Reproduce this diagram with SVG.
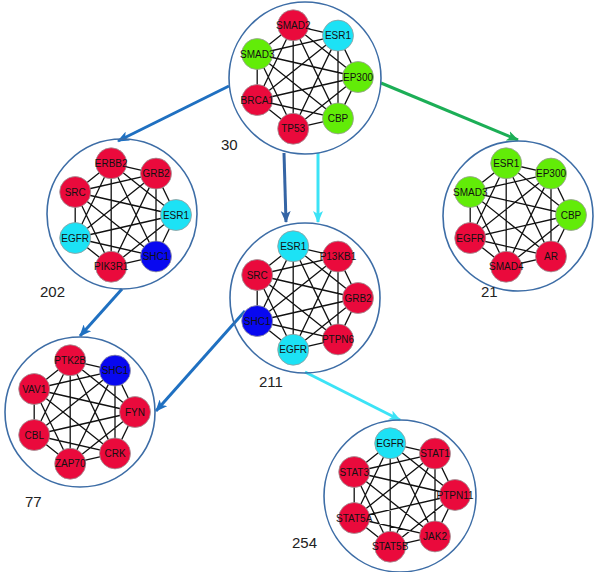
<svg xmlns="http://www.w3.org/2000/svg" xmlns:xlink="http://www.w3.org/1999/xlink" width="600" height="572" viewBox="0 0 600 572">
<style>
.bg{fill:#fff}
.ring{fill:none;stroke:#3D6DA6;stroke-width:1.6}
.edges{fill:none;stroke:#111;stroke-width:1.3}
.n{stroke:#9a9a9a;stroke-width:0.8}
.red{fill:#EA0A3C}
.grn{fill:#62EC08}
.cyn{fill:#1CE2F5}
.blu{fill:#0808F0}
.t{font-family:"Liberation Sans",Arial,sans-serif;font-size:10px;fill:#111;text-anchor:middle}
.lbl{font-family:"Liberation Sans",Arial,sans-serif;font-size:15px;fill:#222}
.arr{fill:none;stroke-width:3}
</style>
<defs>
<path id="k7" d="M53,0L33,41.4M53,0L-11.8,51.7M53,0L-47.8,23M53,0L-47.8,-23M53,0L-11.8,-51.7M53,0L33,-41.4M33,41.4L-11.8,51.7M33,41.4L-47.8,23M33,41.4L-47.8,-23M33,41.4L-11.8,-51.7M33,41.4L33,-41.4M-11.8,51.7L-47.8,23M-11.8,51.7L-47.8,-23M-11.8,51.7L-11.8,-51.7M-11.8,51.7L33,-41.4M-47.8,23L-47.8,-23M-47.8,23L-11.8,-51.7M-47.8,23L33,-41.4M-47.8,-23L-11.8,-51.7M-47.8,-23L33,-41.4M-11.8,-51.7L33,-41.4"/>
<marker id="mB" viewBox="0 0 12 10" refX="11" refY="5" markerWidth="12" markerHeight="10" markerUnits="userSpaceOnUse" orient="auto"><path d="M0,0L12,5L0,10L3,5z" fill="#1F70C1"/></marker>
<marker id="mD" viewBox="0 0 12 10" refX="11" refY="5" markerWidth="12" markerHeight="10" markerUnits="userSpaceOnUse" orient="auto"><path d="M0,0L12,5L0,10L3,5z" fill="#3565A5"/></marker>
<marker id="mC" viewBox="0 0 12 10" refX="11" refY="5" markerWidth="12" markerHeight="10" markerUnits="userSpaceOnUse" orient="auto"><path d="M0,0L12,5L0,10L3,5z" fill="#3CE3F6"/></marker>
<marker id="mG" viewBox="0 0 12 10" refX="11" refY="5" markerWidth="12" markerHeight="10" markerUnits="userSpaceOnUse" orient="auto"><path d="M0,0L12,5L0,10L3,5z" fill="#1CAE56"/></marker>
</defs>
<rect class="bg" width="600" height="572"/>

<g id="connectors">
<path class="arr" stroke="#1F70C1" marker-end="url(#mB)" d="M229,86L118,141"/>
<path class="arr" stroke="#3565A5" marker-end="url(#mD)" d="M284,153L286,222"/>
<path class="arr" stroke="#3CE3F6" marker-end="url(#mC)" d="M318,153L318,222"/>
<path class="arr" stroke="#1CAE56" marker-end="url(#mG)" d="M381,83L518,140"/>
<path class="arr" stroke="#1F70C1" marker-end="url(#mB)" d="M122,289L80,336"/>
<path class="arr" stroke="#1F70C1" marker-end="url(#mB)" d="M245,311L156,411"/>
<path class="arr" stroke="#3CE3F6" marker-end="url(#mC)" d="M305,372L400,420"/>
</g>

<g id="cluster30" transform="translate(305,77)">
<circle class="ring" cx="0" cy="1" r="76"/>
<use xlink:href="#k7" class="edges"/>
<circle class="n grn" cx="53" cy="0" r="15.5"/><text class="t" x="53" y="3.5">EP300</text>
<circle class="n grn" cx="33" cy="41.4" r="15.5"/><text class="t" x="33" y="44.9">CBP</text>
<circle class="n red" cx="-11.8" cy="51.7" r="15.5"/><text class="t" x="-11.8" y="55.2">TP53</text>
<circle class="n red" cx="-47.8" cy="23" r="15.5"/><text class="t" x="-47.8" y="26.5">BRCA1</text>
<circle class="n grn" cx="-47.8" cy="-23" r="15.5"/><text class="t" x="-47.8" y="-19.5">SMAD3</text>
<circle class="n red" cx="-11.8" cy="-51.7" r="15.5"/><text class="t" x="-11.8" y="-48.2">SMAD2</text>
<circle class="n cyn" cx="33" cy="-41.4" r="15.5"/><text class="t" x="33" y="-37.9">ESR1</text>
</g>

<g id="cluster202" transform="translate(123,215)">
<circle class="ring" cx="-1" cy="-1" r="75"/>
<use xlink:href="#k7" class="edges"/>
<circle class="n cyn" cx="53" cy="0" r="15.5"/><text class="t" x="53" y="3.5">ESR1</text>
<circle class="n blu" cx="33" cy="41.4" r="15.5"/><text class="t" x="33" y="44.9">SHC1</text>
<circle class="n red" cx="-11.8" cy="51.7" r="15.5"/><text class="t" x="-11.8" y="55.2">PIK3R1</text>
<circle class="n cyn" cx="-47.8" cy="23" r="15.5"/><text class="t" x="-47.8" y="26.5">EGFR</text>
<circle class="n red" cx="-47.8" cy="-23" r="15.5"/><text class="t" x="-47.8" y="-19.5">SRC</text>
<circle class="n red" cx="-11.8" cy="-51.7" r="15.5"/><text class="t" x="-11.8" y="-48.2">ERBB2</text>
<circle class="n red" cx="33" cy="-41.4" r="15.5"/><text class="t" x="33" y="-37.9">GRB2</text>
</g>

<g id="cluster21" transform="translate(518,215)">
<circle class="ring" cx="0" cy="1" r="75"/>
<use xlink:href="#k7" class="edges"/>
<circle class="n grn" cx="53" cy="0" r="15.5"/><text class="t" x="53" y="3.5">CBP</text>
<circle class="n red" cx="33" cy="41.4" r="15.5"/><text class="t" x="33" y="44.9">AR</text>
<circle class="n red" cx="-11.8" cy="51.7" r="15.5"/><text class="t" x="-11.8" y="55.2">SMAD4</text>
<circle class="n red" cx="-47.8" cy="23" r="15.5"/><text class="t" x="-47.8" y="26.5">EGFR</text>
<circle class="n grn" cx="-47.8" cy="-23" r="15.5"/><text class="t" x="-47.8" y="-19.5">SMAD3</text>
<circle class="n grn" cx="-11.8" cy="-51.7" r="15.5"/><text class="t" x="-11.8" y="-48.2">ESR1</text>
<circle class="n grn" cx="33" cy="-41.4" r="15.5"/><text class="t" x="33" y="-37.9">EP300</text>
</g>

<g id="cluster211" transform="translate(305,298)">
<circle class="ring" cx="0" cy="0" r="75"/>
<use xlink:href="#k7" class="edges"/>
<circle class="n red" cx="53" cy="0" r="15.5"/><text class="t" x="53" y="3.5">GRB2</text>
<circle class="n red" cx="33" cy="41.4" r="15.5"/><text class="t" x="33" y="44.9">PTPN6</text>
<circle class="n cyn" cx="-11.8" cy="51.7" r="15.5"/><text class="t" x="-11.8" y="55.2">EGFR</text>
<circle class="n blu" cx="-47.8" cy="23" r="15.5"/><text class="t" x="-47.8" y="26.5">SHC1</text>
<circle class="n red" cx="-47.8" cy="-23" r="15.5"/><text class="t" x="-47.8" y="-19.5">SRC</text>
<circle class="n cyn" cx="-11.8" cy="-51.7" r="15.5"/><text class="t" x="-11.8" y="-48.2">ESR1</text>
<circle class="n red" cx="33" cy="-41.4" r="15.5"/><text class="t" x="33" y="-37.9">P13KB1</text>
</g>

<g id="cluster77" transform="translate(82,412)">
<circle class="ring" cx="-2" cy="0" r="75"/>
<use xlink:href="#k7" class="edges"/>
<circle class="n red" cx="53" cy="0" r="15.5"/><text class="t" x="53" y="3.5">FYN</text>
<circle class="n red" cx="33" cy="41.4" r="15.5"/><text class="t" x="33" y="44.9">CRK</text>
<circle class="n red" cx="-11.8" cy="51.7" r="15.5"/><text class="t" x="-11.8" y="55.2">ZAP70</text>
<circle class="n red" cx="-47.8" cy="23" r="15.5"/><text class="t" x="-47.8" y="26.5">CBL</text>
<circle class="n red" cx="-47.8" cy="-23" r="15.5"/><text class="t" x="-47.8" y="-19.5">VAV1</text>
<circle class="n red" cx="-11.8" cy="-51.7" r="15.5"/><text class="t" x="-11.8" y="-48.2">PTK2B</text>
<circle class="n blu" cx="33" cy="-41.4" r="15.5"/><text class="t" x="33" y="-37.9">SHC1</text>
</g>

<g id="cluster254" transform="translate(402,495)">
<circle class="ring" cx="-2" cy="1" r="76"/>
<use xlink:href="#k7" class="edges"/>
<circle class="n red" cx="53" cy="0" r="15.5"/><text class="t" x="53" y="3.5">PTPN11</text>
<circle class="n red" cx="33" cy="41.4" r="15.5"/><text class="t" x="33" y="44.9">JAK2</text>
<circle class="n red" cx="-11.8" cy="51.7" r="15.5"/><text class="t" x="-11.8" y="55.2">STAT5B</text>
<circle class="n red" cx="-47.8" cy="23" r="15.5"/><text class="t" x="-47.8" y="26.5">STAT5A</text>
<circle class="n red" cx="-47.8" cy="-23" r="15.5"/><text class="t" x="-47.8" y="-19.5">STAT3</text>
<circle class="n cyn" cx="-11.8" cy="-51.7" r="15.5"/><text class="t" x="-11.8" y="-48.2">EGFR</text>
<circle class="n red" cx="33" cy="-41.4" r="15.5"/><text class="t" x="33" y="-37.9">STAT1</text>
</g>

<g id="labels">
<text class="lbl" x="221" y="150">30</text>
<text class="lbl" x="40" y="297">202</text>
<text class="lbl" x="481" y="297">21</text>
<text class="lbl" x="259" y="387">211</text>
<text class="lbl" x="25" y="507">77</text>
<text class="lbl" x="292" y="548">254</text>
</g>
</svg>
